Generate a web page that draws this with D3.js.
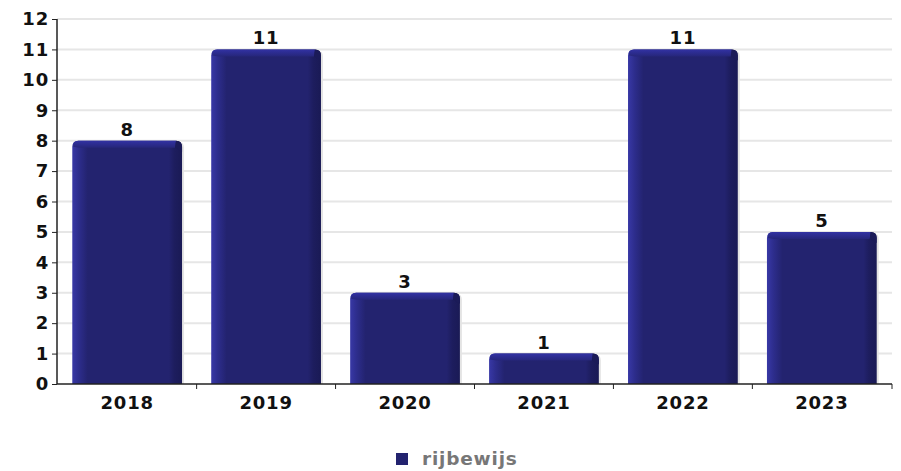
<!DOCTYPE html>
<html lang="nl">
<head>
<meta charset="utf-8">
<title>rijbewijs</title>
<script src="https://d3js.org/d3.v7.min.js"></script>
<style>
body { margin: 0; background: #fff; font-family: "DejaVu Sans", sans-serif; }
svg text { font-weight: bold; letter-spacing: 0.8px; }
</style>
</head>
<body>
<script>
// data
var years = ["2018", "2019", "2020", "2021", "2022", "2023"];
var counts = [8, 11, 3, 1, 11, 5];
var seriesName = "rijbewijs";
var yTicks = [0, 1, 2, 3, 4, 5, 6, 7, 8, 9, 10, 11, 12];

var width = 901, height = 471;
var plotLeft = 57, plotRight = 892, plotTop = 19, plotBottom = 384;

var svg = d3.select("body").append("svg").attr("width", width).attr("height", height);

var x = d3.scaleBand().domain(years).range([plotLeft, plotRight]).paddingInner(0.21).paddingOuter(0.11);
var y = d3.scaleLinear().domain([0, 12]).range([plotBottom, plotTop]);

var defs = svg.append("defs");
var grad = defs.append("linearGradient").attr("id", "barGrad")
  .attr("x1", "0%").attr("x2", "100%").attr("y1", "0%").attr("y2", "0%");
[[0, "#3838a6"], [0.06, "#2d2d8c"], [0.14, "#23236f"], [0.88, "#23236f"], [0.93, "#1d1d5e"], [1, "#1a1a55"]]
  .forEach(function(s) { grad.append("stop").attr("offset", s[0]).attr("stop-color", s[1]); });
var topGrad = defs.append("linearGradient").attr("id", "topGrad")
  .attr("x1", "0%").attr("x2", "0%").attr("y1", "0%").attr("y2", "100%");
[[0, "#3232a4"], [1, "#26267a"]]
  .forEach(function(s) { topGrad.append("stop").attr("offset", s[0]).attr("stop-color", s[1]); });

// gridlines
svg.append("g").selectAll("line").data(yTicks.slice(1)).enter().append("line")
  .attr("x1", plotLeft).attr("x2", plotRight)
  .attr("y1", function(d) { return y(d); }).attr("y2", function(d) { return y(d); })
  .attr("stroke", "#e6e6e6").attr("stroke-width", 2);

// bars
var r = 6, bev = 7;
function barPath(x0, x1, y0) {
  return "M" + x0 + "," + plotBottom + "V" + (y0 + r) + "Q" + x0 + "," + y0 + " " + (x0 + r) + "," + y0 +
    "H" + (x1 - r) + "Q" + x1 + "," + y0 + " " + x1 + "," + (y0 + r) + "V" + plotBottom + "Z";
}
var bars = svg.append("g").selectAll("g").data(counts).enter().append("g");

// light shadow
bars.append("path")
  .attr("d", function(d, i) { var x0 = x(years[i]) + 2; return barPath(x0, x0 + x.bandwidth(), y(d) + 1); })
  .attr("fill", "#e4e4e4");

bars.append("path")
  .attr("d", function(d, i) { var x0 = x(years[i]); return barPath(x0, x0 + x.bandwidth(), y(d)); })
  .attr("fill", "url(#barGrad)");

// top bevel
bars.append("path")
  .attr("d", function(d, i) {
    var x0 = x(years[i]), x1 = x0 + x.bandwidth(), y0 = y(d);
    return "M" + (x0 + r) + "," + y0 + "H" + (x1 - r) + "L" + (x1 - bev) + "," + (y0 + bev) +
      "H" + (x0 + bev) + "L" + (x0 + 1) + "," + (y0 + r) + "Q" + x0 + "," + y0 + " " + (x0 + r) + "," + y0 + "Z";
  })
  .attr("fill", "url(#topGrad)");

// right-top corner bevel
bars.append("path")
  .attr("d", function(d, i) {
    var x1 = x(years[i]) + x.bandwidth(), y0 = y(d);
    return "M" + (x1 - r) + "," + y0 + "Q" + x1 + "," + y0 + " " + x1 + "," + (y0 + r) +
      "V" + (y0 + bev + 4) + "L" + (x1 - bev) + "," + (y0 + bev) + "Z";
  })
  .attr("fill", "#1b1b58");

// value labels
bars.append("text")
  .attr("x", function(d, i) { return x(years[i]) + x.bandwidth() / 2; })
  .attr("y", function(d) { return y(d) - 5; })
  .attr("text-anchor", "middle")
  .attr("font-size", 18)
  .attr("fill", "#111")
  .text(function(d) { return d; });

// axes
var yAxis = svg.append("g").attr("transform", "translate(" + plotLeft + ",0)")
  .call(d3.axisLeft(y).tickValues(yTicks).tickSize(5).tickPadding(3));
var xAxis = svg.append("g").attr("transform", "translate(0," + plotBottom + ")")
  .call(d3.axisBottom(x).tickSize(0).tickPadding(12));
[yAxis, xAxis].forEach(function(a) {
  a.select(".domain").attr("stroke", "#222").attr("stroke-width", 1.5);
  a.selectAll("text").attr("font-size", 18).attr("font-family", "DejaVu Sans").attr("fill", "#111");
  a.selectAll(".tick line").attr("stroke", "#222");
});
yAxis.select(".domain").attr("d", "M0," + plotTop + "V" + plotBottom);
xAxis.select(".domain").attr("d", "M" + plotLeft + ",0H" + plotRight);
// boundary ticks between categories
var bounds = years.slice(1).map(function(c) { return x(c) - x.step() * x.paddingInner() / 2; }).concat([plotRight]);
xAxis.append("g").selectAll("line").data(bounds).enter().append("line")
  .attr("x1", function(d) { return d; }).attr("x2", function(d) { return d; })
  .attr("y1", 0).attr("y2", 5).attr("stroke", "#222");

// legend
var legend = svg.append("g").attr("transform", "translate(396,453)");
legend.append("rect").attr("width", 12).attr("height", 12).attr("fill", "#23236f");
legend.append("text").attr("x", 26).attr("y", 12).attr("font-size", 18.5).attr("fill", "#777")
  .text(seriesName);
</script>
</body>
</html>
